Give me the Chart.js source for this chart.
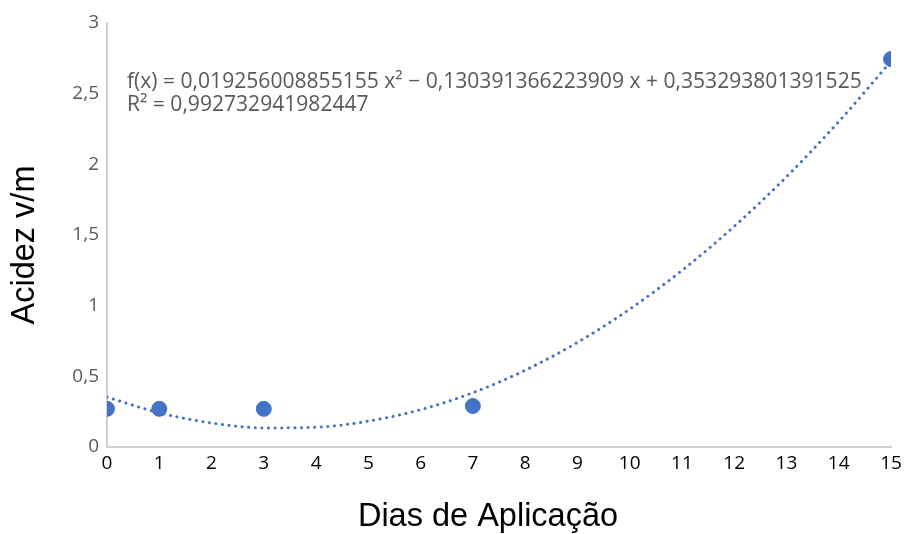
<!DOCTYPE html>
<html>
<head>
<meta charset="utf-8">
<script src="https://cdn.jsdelivr.net/npm/chart.js@4/dist/chart.umd.min.js"></script>
<style>
  html,body{margin:0;padding:0;background:#fff;}
  #wrap{width:906px;height:534px;position:relative;}
</style>
</head>
<body>
<div id="wrap"><canvas id="c" width="906" height="534"></canvas></div>
<script>
// Observed data
const dias = [0, 1, 3, 7, 15];
const acidez = [0.27, 0.27, 0.27, 0.29, 2.745];

// Trendline at each day
const trendX = [0,1,2,3,4,5,6,7,8,9,10,11,12,13,14,15];
const trendY = [0.353,0.242,0.170,0.135,0.140,0.183,0.264,0.384,0.543,0.740,0.975,1.249,1.561,1.912,2.302,2.729];

const xTickLabels = ['0','1','2','3','4','5','6','7','8','9','10','11','12','13','14','15'];
const yTickLabels = ['0','0,5','1','1,5','2','2,5','3'];

const eqLine1 = 'f(x) = 0,019256008855155 x² − 0,130391366223909 x + 0,353293801391525';
const eqLine2 = 'R² = 0,992732941982447';
const xTitle = 'Dias de Aplicação';
const yTitle = 'Acidez v/m';

const blue = '#4472C4';

const titlesPlugin = {
  id: 'titles',
  afterDraw(chart) {
    const ctx = chart.ctx;
    ctx.save();
    // equation
    ctx.fillStyle = '#595959';
    let size = 18;
    ctx.font = size + 'px "Open Sans"';
    const w = ctx.measureText(eqLine1).width;
    size = size * 735 / w;
    ctx.font = size.toFixed(2) + 'px "Open Sans"';
    ctx.textBaseline = 'middle';
    ctx.textAlign = 'left';
    ctx.fillText(eqLine1, 127, 82);
    ctx.fillText(eqLine2, 127, 105);
    // axis titles
    ctx.fillStyle = '#000';
    ctx.font = '32.5px "Liberation Sans", Arial';
    ctx.textAlign = 'center';
    ctx.fillText(xTitle, 488, 517);
    ctx.translate(25, 245);
    ctx.rotate(-Math.PI / 2);
    ctx.fillText(yTitle, 0, 0);
    ctx.restore();
  }
};

new Chart(document.getElementById('c'), {
  type: 'scatter',
  data: {
    datasets: [
      {
        label: 'Acidez',
        data: dias.map((d, i) => ({x: d, y: acidez[i]})),
        backgroundColor: blue,
        borderColor: blue,
        pointRadius: 7.5,
        pointHoverRadius: 7.5,
        order: 1
      },
      {
        label: 'Tendência',
        type: 'line',
        data: trendX.map((d, i) => ({x: d, y: trendY[i]})),
        borderColor: blue,
        borderWidth: 3,
        borderDash: [0.1, 6.5],
        borderCapStyle: 'round',
        pointRadius: 0,
        fill: false,
        cubicInterpolationMode: 'monotone',
        order: 2
      }
    ]
  },
  options: {
    responsive: false,
    animation: false,
    events: [],
    layout: {padding: {top: 23, right: 15, left: 0, bottom: 0}},
    plugins: {legend: {display: false}, tooltip: {enabled: false}},
    scales: {
      x: {
        type: 'linear', min: 0, max: 15,
        grid: {display: false, drawTicks: false},
        border: {display: true, color: '#d0d0d0', width: 2},
        ticks: {
          stepSize: 1, padding: 5, color: '#000',
          font: {family: '"Open Sans"', size: 19},
          callback: (v) => xTickLabels[Math.round(v)] ?? ''
        },
        afterFit(s) { s.height = 87; s.paddingRight = 0; s.paddingLeft = 0; }
      },
      y: {
        min: 0, max: 3,
        grid: {display: false, drawTicks: false},
        border: {display: true, color: '#d0d0d0', width: 2},
        ticks: {
          stepSize: 0.5, padding: 8, color: '#595959',
          font: {family: '"Open Sans"', size: 19},
          callback: (v) => yTickLabels[Math.round(v * 2)] ?? ''
        },
        afterFit(s) { s.width = 107; s.paddingTop = 0; s.paddingBottom = 0; }
      }
    }
  },
  plugins: [titlesPlugin]
});
</script>
</body>
</html>
